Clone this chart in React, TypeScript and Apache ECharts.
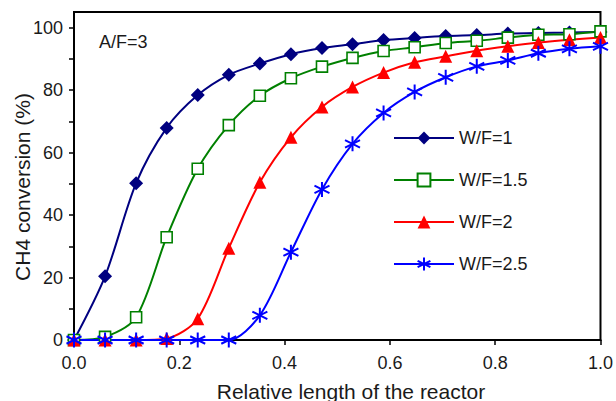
import React, { useEffect, useRef } from "react";
import * as echarts from "echarts";

const xValues = [0, 0.059, 0.118, 0.176, 0.235, 0.294, 0.353, 0.412, 0.471, 0.529, 0.588, 0.647, 0.706, 0.765, 0.824, 0.882, 0.941, 1.0];
const seriesNames = ["W/F=1", "W/F=1.5", "W/F=2", "W/F=2.5"];
const wf1 = [0, 20.4, 50.2, 67.9, 78.4, 84.9, 88.5, 91.5, 93.5, 94.7, 96.0, 96.7, 97.3, 97.6, 98.1, 98.3, 98.4, 98.6];
const wf15 = [0, 1.0, 7.3, 32.9, 54.8, 68.8, 78.2, 83.8, 87.5, 90.3, 92.5, 93.7, 95.1, 95.8, 96.8, 97.7, 97.9, 98.8];
const wf2 = [0, 0, 0, 0.5, 6.8, 29.4, 50.5, 64.9, 74.6, 81.0, 85.6, 88.9, 90.8, 92.6, 94.0, 95.2, 96.1, 96.8];
const wf25 = [0, 0, 0, 0, 0, 0, 7.9, 28.1, 48.2, 62.8, 72.7, 79.4, 84.1, 87.6, 89.5, 91.8, 93.2, 94.0];
const yTickValues = [0, 10, 20, 30, 40, 50, 60, 70, 80, 90, 100];
const yLabelValues = [0, 20, 40, 60, 80, 100];

const FONT = "Liberation Sans, Arial, Helvetica, sans-serif";
const TEXT = "#1a1a1a";

const asterisk = "path://M0,-1L0,1M-0.866,-0.5L0.866,0.5M-0.866,0.5L0.866,-0.5";

function pairs(ys: number[]) {
  return xValues.map((x, i) => [x, ys[i]]);
}

export default function App() {
  const ref = useRef<HTMLDivElement>(null);
  useEffect(() => {
    if (!ref.current) return;
    const chart = echarts.init(ref.current, null, { renderer: "svg" });
    chart.setOption({
      animation: false,
      backgroundColor: "#fff",
      grid: { left: 74, right: 12, top: 12, bottom: 61, show: true, borderColor: "#000", borderWidth: 2, containLabel: false },
      xAxis: {
        type: "value",
        min: 0,
        max: 1,
        interval: 0.2,
        axisLine: { lineStyle: { color: "#000", width: 2 } },
        axisTick: { show: true, inside: false, length: 5, lineStyle: { color: "#000", width: 1.5 } },
        axisLabel: { fontSize: 18, fontFamily: FONT, color: TEXT, margin: 14, formatter: (v: number) => v.toFixed(1) },
        splitLine: { show: false },
      },
      yAxis: {
        type: "value",
        min: 0,
        max: 105,
        axisLine: { show: true, lineStyle: { color: "#000", width: 2 } },
        axisTick: { show: true, inside: false, length: 5, customValues: yTickValues, lineStyle: { color: "#000", width: 1.5 } },
        axisLabel: { fontSize: 18, fontFamily: FONT, color: TEXT, margin: 11, customValues: yLabelValues },
        splitLine: { show: false },
      },
      legend: {
        orient: "vertical",
        left: 388,
        top: 124,
        itemWidth: 60,
        itemHeight: 16,
        itemGap: 24,
        textStyle: { fontSize: 18, fontFamily: FONT, color: TEXT },
        data: seriesNames,
      },
      graphic: [
        { type: "text", left: 99, top: 33, style: { text: "A/F=3", fontSize: 18, fontFamily: FONT, fill: TEXT } },
        { type: "text", x: 22, y: 187, rotation: Math.PI / 2, style: { text: "CH4 conversion (%)", fontSize: 21, fontFamily: FONT, fill: TEXT, align: "center", verticalAlign: "middle" } },
        { type: "text", x: 351, y: 391, style: { text: "Relative length of the reactor", fontSize: 21, fontFamily: FONT, fill: TEXT, align: "center", verticalAlign: "middle" } },
      ],
      series: [
        {
          name: seriesNames[0], type: "line", data: pairs(wf1), smooth: 0.3, symbol: "diamond", symbolSize: 14,
          lineStyle: { color: "#000080", width: 2 }, itemStyle: { color: "#000080" },
        },
        {
          name: seriesNames[1], type: "line", data: pairs(wf15), smooth: 0.3, symbol: "rect", symbolSize: 11,
          lineStyle: { color: "#008000", width: 2 }, itemStyle: { color: "#ffffff", borderColor: "#008000", borderWidth: 1.6 },
        },
        {
          name: seriesNames[2], type: "line", data: pairs(wf2), smooth: 0.3, symbol: "triangle", symbolSize: 13,
          lineStyle: { color: "#ff0000", width: 2 }, itemStyle: { color: "#ff0000" },
        },
        {
          name: seriesNames[3], type: "line", data: pairs(wf25), smooth: 0.3, symbol: asterisk, symbolSize: 15,
          lineStyle: { color: "#0000ff", width: 2 }, itemStyle: { color: "none", borderColor: "#0000ff", borderWidth: 2 },
        },
      ],
    });
    return () => chart.dispose();
  }, []);
  return <div ref={ref} style={{ width: 616, height: 401, position: "absolute", left: 0, top: 0 }} />;
}
